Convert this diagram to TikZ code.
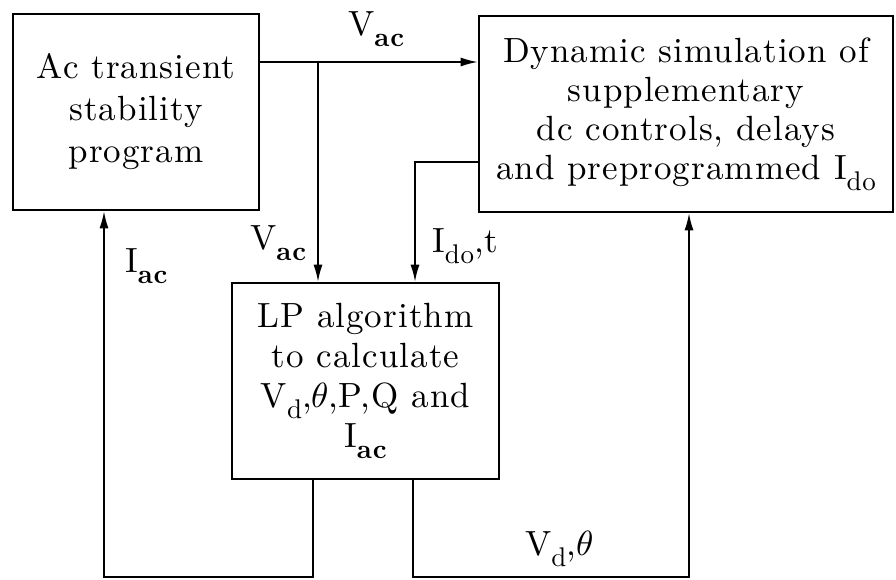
\documentclass[tikz,border=0pt]{standalone}
\usepackage{fontspec}
\setmainfont{lmroman10-regular.otf}[BoldFont=lmroman10-bold.otf, LetterSpace=3]
\newfontfamily\lmm{Latin Modern Math}
\usetikzlibrary{arrows.meta}
\newcommand\subs[1]{\raisebox{-11pt}{\fontsize{27}{27}\selectfont #1}}
\newcommand\thet{{\lmm 𝜃}}
\begin{document}
\begin{tikzpicture}[x=1pt,y=-1pt,
  box/.style={draw, line width=2.6pt, inner sep=0pt, align=center, minimum height=196pt},
  conn/.style={line width=1.6pt, -{Latex[length=17pt,width=9pt]}},
  lbl/.style={inner sep=0pt, anchor=base west, font=\fontsize{35}{40}\selectfont}]
\useasboundingbox (0,0) rectangle (896,579);
\node[box, minimum width=246pt, font=\fontsize{35}{42}\selectfont] (ac) at (136,112)
  {Ac transient\\stability\\program};
\node[box, minimum width=414pt, font=\fontsize{35}{39}\selectfont] (dyn) at (686,114)
  {Dynamic simulation of\\supplementary\\dc controls, delays\\and preprogrammed I\subs{do}};
\node[box, minimum width=267pt, font=\fontsize{35}{40}\selectfont] (lp) at (365.5,381)
  {LP algorithm\\to calculate\\V\subs{d},\thet,P,Q and\\I\subs{\bfseries ac}};
\coordinate (j1) at (318,62);
\coordinate (k1) at (415,162);
\coordinate (b1) at (313,577);
\coordinate (b2) at (104,577);
\coordinate (b3) at (413,577);
\coordinate (b4) at (689,577);
\draw[conn] (ac.east |- j1) -- (dyn.west |- j1);
\draw[conn] (j1) -- (j1 |- lp.north);
\draw[conn] (dyn.west |- k1) -- (k1) -- (k1 |- lp.north);
\draw[conn] (b1 |- lp.south) -- (b1) -- (b2) -- (b2 |- ac.south);
\draw[conn] (b3 |- lp.south) -- (b3) -- (b4) -- (b4 |- dyn.south);
\node[lbl] (lvac1) at (348,35) {V\subs{\bfseries ac}};
\node[lbl] (lvac2) at (250,249) {V\subs{\bfseries ac}};
\node[lbl] (liac) at (125,272) {I\subs{\bfseries ac}};
\node[lbl] (lido) at (432,252) {I\subs{do},t};
\node[lbl] (lvd) at (525,555) {V\subs{d},\thet};
\end{tikzpicture}
\end{document}
